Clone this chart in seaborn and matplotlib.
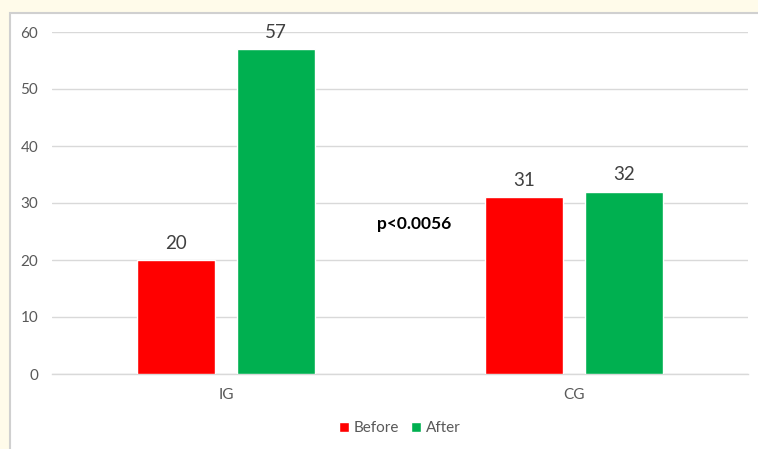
import matplotlib
matplotlib.use("Agg")
import matplotlib.pyplot as plt
from matplotlib.patches import Rectangle
import seaborn as sns
import pandas as pd

groups = ["IG", "CG"]
before = [20, 31]
after = [57, 32]
series = ["Before", "After"]
colors = {"Before": "#FF0000", "After": "#00B050"}
p_text = "p<0.0056"

df = pd.DataFrame({
    "group": groups * 2,
    "phase": [series[0]] * len(groups) + [series[1]] * len(groups),
    "value": before + after,
})

sns.set_theme(style="white")
plt.rcParams["font.family"] = ["Lato", "DejaVu Sans"]

fig = plt.figure(figsize=(7.58, 4.49), dpi=100)
fig.patch.set_facecolor("#FFFBEA")
# white chart panel with light border, kept behind the axes
fig.patches.append(Rectangle((10 / 758, -0.1), 1.0, (449 - 13) / 449 + 0.1,
                             transform=fig.transFigure, facecolor="white",
                             edgecolor="#D0D0D0", linewidth=1.5, zorder=-5))

ax = fig.add_axes([52 / 758, 1 - 374 / 449, (748 - 52) / 758, (374 - 32) / 449])
ax.set_zorder(2)
ax.set_facecolor("none")
sns.barplot(data=df, x="group", y="value", hue="phase", palette=colors,
            width=0.575, gap=0.22, ax=ax, saturation=1, legend=True, zorder=3)

ax.set_ylim(0, 60)
ax.set_xlim(-0.5, 1.5)
ax.set_yticks(range(0, 61, 10))
ax.yaxis.grid(True, color="#D9D9D9", linewidth=1, zorder=0)
ax.set_axisbelow(True)
for s in ["top", "right", "left"]:
    ax.spines[s].set_visible(False)
ax.spines["bottom"].set_color("#D9D9D9")
ax.spines["bottom"].set_linewidth(1)
ax.tick_params(axis="both", length=0, colors="#595959", labelsize=11)
ax.tick_params(axis="y", pad=10)
ax.tick_params(axis="x", pad=10)
ax.set_xlabel("")
ax.set_ylabel("")

for cont in ax.containers:
    ax.bar_label(cont, fmt="%d", padding=6, fontsize=13.5, color="#404040")

ax.text(0.54, 26.3, p_text, ha="center", va="center", fontsize=12.5,
        fontweight="bold", color="#000000")

handles, labels = ax.get_legend_handles_labels()
ax.legend(handles, labels, loc="center", bbox_to_anchor=(0.5, (1 - 428 / 449 - (1 - 374 / 449)) / ((374 - 32) / 449)),
          ncol=2, frameon=False, fontsize=11, handlelength=0.65, handleheight=0.65,
          handletextpad=0.3, columnspacing=0.8, labelcolor="#595959")

fig.savefig("out.png", dpi=100, facecolor=fig.get_facecolor())
